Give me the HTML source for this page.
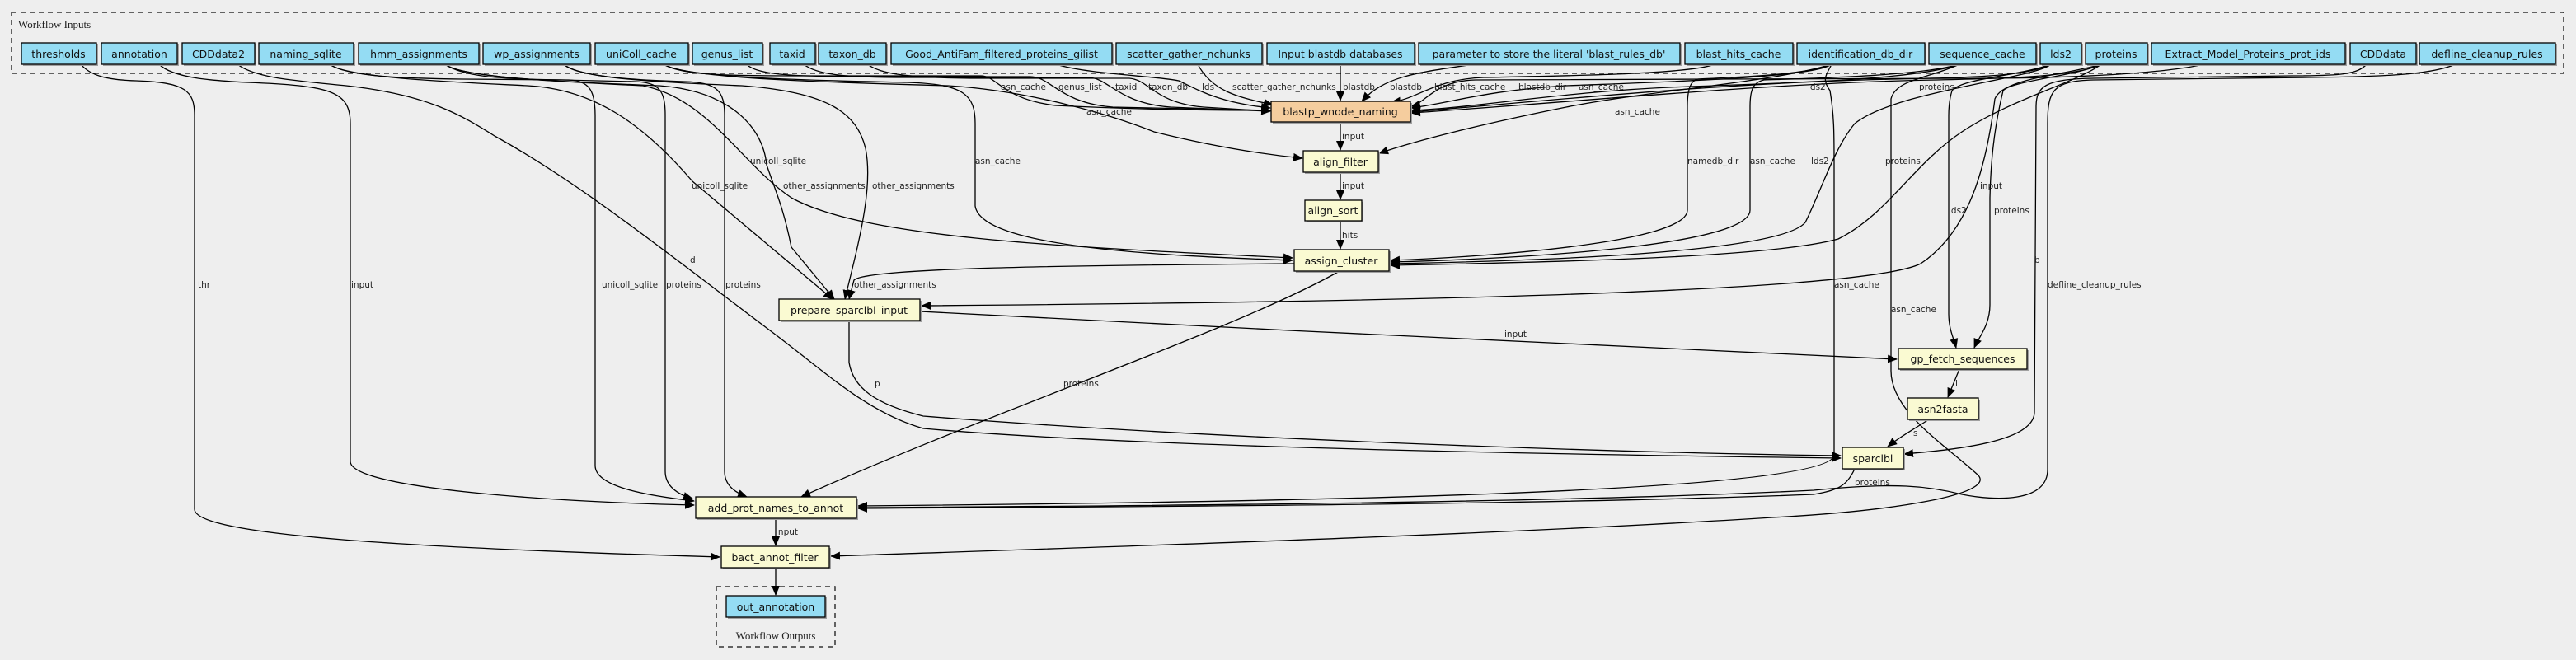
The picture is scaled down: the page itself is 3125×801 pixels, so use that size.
<!DOCTYPE html>
<html><head><meta charset="utf-8"><style>
html,body{margin:0;padding:0;background:#eeeeee;}
svg{display:block;}
.n{font-family:"DejaVu Sans","Liberation Sans",sans-serif;font-size:12.5px;fill:#111;text-anchor:middle;}
.l{font-family:"DejaVu Sans","Liberation Sans",sans-serif;font-size:10.5px;fill:#222;}
.e{fill:none;stroke:#000;stroke-width:1.3;}
.ea{fill:none;stroke:#000;stroke-width:1.3;marker-end:url(#ah);}
</style></head><body>
<svg width="3125" height="801" viewBox="0 0 3125 801" xmlns="http://www.w3.org/2000/svg">
<defs>
<marker id="ah" markerWidth="12" markerHeight="10" refX="11" refY="5" orient="auto" markerUnits="userSpaceOnUse">
<path d="M0,0 L12,5 L0,10 z" fill="#000"/></marker>
</defs>
<rect width="3125" height="801" fill="#eeeeee"/>
<rect x="14" y="15" width="3096" height="74" fill="none" stroke="#333" stroke-width="1.5" stroke-dasharray="6,5"/>
<text x="22" y="34" style="font-family:'Liberation Serif',serif;font-size:13px;fill:#222">Workflow Inputs</text>
<rect x="869" y="712" width="144" height="73" fill="none" stroke="#333" stroke-width="1.5" stroke-dasharray="6,5"/>
<text x="941" y="776" style="font-family:'Liberation Serif',serif;font-size:13px;fill:#222;text-anchor:middle">Workflow Outputs</text>

<g>
<path class="ea" d="M98,78 C110,92 130,97 165,98 C225,100 236,110 236,140 L236,618 C236,650 500,665 873,676"/>
<path class="ea" d="M193,78 C210,95 260,98 300,100 C400,104 425,110 425,150 L425,560 C425,595 700,610 842,613"/>
<path class="ea" d="M288,78 C310,95 360,98 420,104 C520,115 560,140 600,165 C700,220 800,300 930,398 C1000,450 1050,500 1120,520 C1400,545 2000,553 2233,556"/>
<path class="ea" d="M1030,389 L1030,440 C1035,470 1060,490 1120,505 C1500,535 2000,550 2233,553"/>
<path class="ea" d="M400,78 C420,92 480,95 560,96 L690,97 C715,98 722,110 722,140 L722,565 C722,592 790,602 842,608"/>
<path class="ea" d="M540,78 C560,92 600,96 680,97 L770,99 C800,100 807,110 807,140 L807,572 C807,590 822,600 840,605"/>
<path class="ea" d="M684,78 C700,92 760,97 830,99 C870,100 879,110 879,140 L879,572 C879,590 893,598 906,603"/>
<path class="ea" d="M400,78 C420,95 560,100 640,104 C720,108 780,150 840,220 L1010,363"/>
<path class="ea" d="M540,78 C560,95 700,100 800,104 C880,110 925,150 930,200 C940,230 950,250 960,300 L1012,363"/>
<path class="ea" d="M684,78 C700,95 800,100 900,104 C1010,112 1040,140 1050,180 C1060,230 1040,300 1025,363"/>
<path class="ea" d="M1570,320 C1300,322 1050,325 1036,340 L1030,363"/>
<path class="ea" d="M540,78 C560,95 700,100 780,104 C860,120 900,200 960,240 C1050,290 1300,300 1568,313"/>
<path class="ea" d="M805,78 C830,95 1000,98 1100,100 C1170,102 1183,115 1183,150 L1183,250 C1190,300 1400,310 1568,316"/>
<path class="ea" d="M805,78 C830,95 1000,100 1150,104 C1250,110 1350,140 1400,160 C1480,180 1540,188 1580,192"/>
<path class="ea" d="M1625,329 C1500,400 1200,500 972,603"/>
<path class="ea" d="M805,78 C830,92 880,92 1000,92 L1190,92 C1210,92 1215,120 1280,128 C1400,134 1500,134 1541,134"/>
<path class="ea" d="M905,78 C920,90 950,93 1050,93 L1250,93 C1275,93 1285,125 1350,130 L1541,134"/>
<path class="ea" d="M975,78 C990,90 1020,94 1100,94 L1320,94 C1345,94 1355,125 1420,130 L1541,135"/>
<path class="ea" d="M1052,78 C1070,90 1100,95 1200,95 L1370,95 C1395,97 1400,125 1460,130 L1541,135"/>
<path class="ea" d="M1281,78 C1320,90 1400,92 1430,98 C1455,110 1480,125 1541,131"/>
<path class="ea" d="M1453,78 C1470,110 1500,118 1544,127"/>
<path class="ea" d="M1626,78 L1626,122"/>
<path class="ea" d="M1788,78 C1720,88 1680,92 1652,123"/>
<path class="ea" d="M2080,78 C2050,90 1900,92 1800,94 C1740,96 1720,120 1688,124"/>
<path class="ea" d="M2222,78 C2200,95 2000,100 1900,104 C1800,110 1760,125 1712,131"/>
<path class="ea" d="M2377,78 C2330,95 2200,100 2050,105 C1900,110 1800,130 1712,134"/>
<path class="ea" d="M2488,78 C2460,92 2400,94 2300,96 C2100,100 1900,120 1712,136"/>
<path class="ea" d="M2549,78 C2520,92 2450,95 2350,97 C2150,100 1900,125 1712,137"/>
<path class="ea" d="M2674,78 C2620,90 2500,95 2400,95 L1790,97 C1740,98 1730,125 1712,129"/>
<path class="ea" d="M1626,148 L1626,182"/>
<path class="ea" d="M1626,209 L1626,242"/>
<path class="ea" d="M1626,268 L1626,302"/>
<path class="ea" d="M2222,78 C2150,100 2000,110 1900,130 C1800,150 1720,170 1673,186"/>
<path class="ea" d="M2222,78 C2190,92 2090,94 2060,96 C2050,98 2047,110 2047,130 L2047,255 C2047,295 1800,312 1687,316"/>
<path class="ea" d="M2377,78 C2330,92 2200,95 2140,97 C2126,100 2123,110 2123,130 L2123,255 C2123,298 1850,314 1687,318"/>
<path class="ea" d="M2488,78 C2470,95 2300,110 2250,150 C2225,180 2210,230 2190,270 C2160,305 1900,316 1687,320"/>
<path class="ea" d="M2549,78 C2520,100 2440,120 2380,160 C2320,200 2290,260 2230,290 C2150,312 1900,318 1687,322"/>
<path class="ea" d="M2222,78 C2215,92 2210,96 2220,110 C2225,140 2225,160 2225,200 L2225,552 C2225,600 1500,610 1041,614"/>
<path class="ea" d="M2377,78 C2340,95 2300,96 2294,120 L2294,450 C2294,500 2360,540 2400,577 C2420,600 2300,620 2150,628 C1800,650 1300,665 1008,675"/>
<path class="ea" d="M2549,78 C2500,92 2430,95 2420,120 C2410,200 2390,280 2330,320 C2250,360 1500,368 1118,371"/>
<path class="ea" d="M1116,378 C1500,400 2000,420 2301,436"/>
<path class="ea" d="M2488,78 C2450,92 2380,95 2368,110 C2365,120 2364,130 2364,140 L2364,380 C2364,400 2370,410 2373,422"/>
<path class="ea" d="M2549,78 C2520,92 2440,98 2430,110 C2418,160 2415,200 2414,240 L2414,370 C2414,395 2400,410 2395,422"/>
<path class="ea" d="M2377,448 C2372,460 2368,470 2363,482"/>
<path class="ea" d="M2340,509 C2320,522 2305,530 2290,542"/>
<path class="ea" d="M2871,78 C2860,90 2840,92 2780,92 L2540,95 C2480,96 2470,105 2470,130 L2468,500 C2468,535 2380,545 2310,551"/>
<path class="ea" d="M2979,78 C2950,90 2900,93 2800,94 L2540,97 C2490,98 2484,110 2484,150 L2484,570 C2484,610 2420,608 2380,600 C2340,590 2300,585 2200,595 C1900,610 1400,614 1041,616"/>
<path class="ea" d="M2250,569 C2240,590 2230,595 2200,600 C1900,612 1400,615 1041,617"/>
<path class="ea" d="M941,629 L941,662"/>
<path class="ea" d="M941,689 L941,722"/>
</g>

<g class="l">
<text x="1214" y="109">asn_cache</text><text x="1284" y="109">genus_list</text><text x="1353" y="109">taxid</text>
<text x="1393" y="109">taxon_db</text><text x="1458" y="109">lds</text><text x="1495" y="109">scatter_gather_nchunks</text>
<text x="1629" y="109">blastdb</text><text x="1686" y="109">blastdb</text><text x="1740" y="109">blast_hits_cache</text>
<text x="1842" y="109">blastdb_dir</text><text x="1915" y="109">asn_cache</text><text x="2193" y="109">lds2</text><text x="2328" y="109">proteins</text>
<text x="1318" y="139">asn_cache</text><text x="1959" y="139">asn_cache</text>
<text x="1628" y="169">input</text><text x="1628" y="229">input</text><text x="1628" y="289">hits</text>
<text x="910" y="199">unicoll_sqlite</text><text x="1183" y="199">asn_cache</text>
<text x="839" y="229">unicoll_sqlite</text><text x="950" y="229">other_assignments</text><text x="1058" y="229">other_assignments</text>
<text x="2047" y="199">namedb_dir</text><text x="2123" y="199">asn_cache</text><text x="2197" y="199">lds2</text><text x="2287" y="199">proteins</text>
<text x="2402" y="229">input</text><text x="2364" y="259">lds2</text><text x="2419" y="259">proteins</text>
<text x="837" y="319">d</text><text x="2468" y="319">b</text>
<text x="240" y="349">thr</text><text x="426" y="349">input</text><text x="730" y="349">unicoll_sqlite</text>
<text x="808" y="349">proteins</text><text x="880" y="349">proteins</text><text x="1036" y="349">other_assignments</text>
<text x="2225" y="349">asn_cache</text><text x="2484" y="349">defline_cleanup_rules</text>
<text x="2294" y="379">asn_cache</text>
<text x="1825" y="409">input</text><text x="1290" y="469">proteins</text><text x="1061" y="469">p</text>
<text x="2372" y="469">l</text><text x="2321" y="529">s</text><text x="2250" y="589">proteins</text>
<text x="941" y="649">input</text>
</g>

<g>
<g fill="#a0a0a0">
<rect x="28" y="54" width="91" height="26"/><rect x="125" y="54" width="92" height="26"/><rect x="223" y="54" width="88" height="26"/>
<rect x="316" y="54" width="115" height="26"/><rect x="437" y="54" width="146" height="26"/><rect x="588" y="54" width="130" height="26"/>
<rect x="724" y="54" width="113" height="26"/><rect x="842" y="54" width="85" height="26"/><rect x="936" y="54" width="55" height="26"/>
<rect x="995" y="54" width="82" height="26"/><rect x="1083" y="54" width="268" height="26"/><rect x="1356" y="54" width="177" height="26"/>
<rect x="1539" y="54" width="179" height="26"/><rect x="1723" y="54" width="317" height="26"/><rect x="2046" y="54" width="131" height="26"/>
<rect x="2182" y="54" width="155" height="26"/><rect x="2342" y="54" width="130" height="26"/><rect x="2477" y="54" width="50" height="26"/>
<rect x="2532" y="54" width="75" height="26"/><rect x="2612" y="54" width="235" height="26"/><rect x="2853" y="54" width="80" height="26"/>
<rect x="2937" y="54" width="165" height="26"/>
</g>
<g fill="#94dcf3" stroke="#000" stroke-width="1.3">
<rect x="26" y="52" width="91" height="26"/><rect x="123" y="52" width="92" height="26"/><rect x="221" y="52" width="88" height="26"/>
<rect x="314" y="52" width="115" height="26"/><rect x="435" y="52" width="146" height="26"/><rect x="586" y="52" width="130" height="26"/>
<rect x="722" y="52" width="113" height="26"/><rect x="840" y="52" width="85" height="26"/><rect x="934" y="52" width="55" height="26"/>
<rect x="993" y="52" width="82" height="26"/><rect x="1081" y="52" width="268" height="26"/><rect x="1354" y="52" width="177" height="26"/>
<rect x="1537" y="52" width="179" height="26"/><rect x="1721" y="52" width="317" height="26"/><rect x="2044" y="52" width="131" height="26"/>
<rect x="2180" y="52" width="155" height="26"/><rect x="2340" y="52" width="130" height="26"/><rect x="2475" y="52" width="50" height="26"/>
<rect x="2530" y="52" width="75" height="26"/><rect x="2610" y="52" width="235" height="26"/><rect x="2851" y="52" width="80" height="26"/>
<rect x="2935" y="52" width="165" height="26"/>
</g>
<g class="n">
<text x="71" y="70">thresholds</text><text x="169" y="70">annotation</text><text x="265" y="70">CDDdata2</text>
<text x="371" y="70">naming_sqlite</text><text x="508" y="70">hmm_assignments</text><text x="651" y="70">wp_assignments</text>
<text x="778" y="70">uniColl_cache</text><text x="882" y="70">genus_list</text><text x="961" y="70">taxid</text>
<text x="1034" y="70">taxon_db</text><text x="1215" y="70">Good_AntiFam_filtered_proteins_gilist</text><text x="1442" y="70">scatter_gather_nchunks</text>
<text x="1626" y="70">Input blastdb databases</text><text x="1879" y="70">parameter to store the literal 'blast_rules_db'</text><text x="2109" y="70">blast_hits_cache</text>
<text x="2257" y="70">identification_db_dir</text><text x="2405" y="70">sequence_cache</text><text x="2500" y="70">lds2</text>
<text x="2567" y="70">proteins</text><text x="2727" y="70">Extract_Model_Proteins_prot_ids</text><text x="2891" y="70">CDDdata</text>
<text x="3017" y="70">defline_cleanup_rules</text>
</g>
</g>

<g fill="#a0a0a0">
<rect x="1544" y="125" width="169" height="25"/><rect x="1583" y="185" width="91" height="26"/><rect x="1585" y="245" width="69" height="25"/>
<rect x="1572" y="305" width="115" height="26"/><rect x="947" y="365" width="171" height="26"/><rect x="2305" y="425" width="156" height="25"/>
<rect x="2316" y="485" width="86" height="26"/><rect x="2237" y="545" width="74" height="26"/><rect x="846" y="605" width="195" height="26"/>
<rect x="877" y="665" width="131" height="26"/><rect x="883" y="725" width="120" height="26"/>
</g>
<g stroke="#000" stroke-width="1.3">
<rect x="1542" y="123" width="169" height="25" fill="#f5cd9e"/>
<g fill="#fafad2">
<rect x="1581" y="183" width="91" height="26"/><rect x="1583" y="243" width="69" height="25"/>
<rect x="1570" y="303" width="115" height="26"/><rect x="945" y="363" width="171" height="26"/><rect x="2303" y="423" width="156" height="25"/>
<rect x="2314" y="483" width="86" height="26"/><rect x="2235" y="543" width="74" height="26"/><rect x="844" y="603" width="195" height="26"/>
<rect x="875" y="663" width="131" height="26"/>
</g>
<rect x="881" y="723" width="120" height="26" fill="#94dcf3"/>
</g>
<g class="n">
<text x="1626" y="140">blastp_wnode_naming</text><text x="1626" y="201">align_filter</text><text x="1617" y="260">align_sort</text>
<text x="1627" y="321">assign_cluster</text><text x="1030" y="381">prepare_sparclbl_input</text><text x="2381" y="440">gp_fetch_sequences</text>
<text x="2357" y="501">asn2fasta</text><text x="2272" y="561">sparclbl</text><text x="941" y="621">add_prot_names_to_annot</text>
<text x="940" y="681">bact_annot_filter</text><text x="941" y="741">out_annotation</text>
</g>
</svg>
</body></html>
